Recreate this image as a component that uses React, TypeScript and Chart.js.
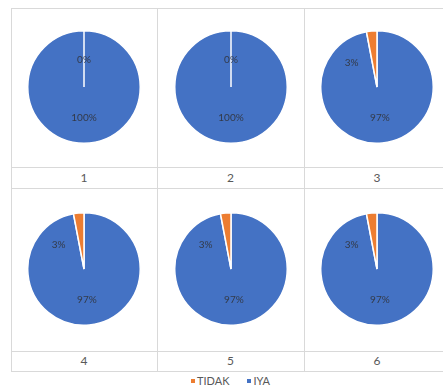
import React, { useEffect, useRef } from "react";
import { Chart, registerables } from "chart.js";

Chart.register(...registerables);

const categories = ["1", "2", "3", "4", "5", "6"];
const seriesNames = ["TIDAK", "IYA"];
const tidakValues = [0, 0, 3, 3, 3, 3];
const iyaValues = [100, 100, 97, 97, 97, 97];
const seriesColors = ["#ED7D31", "#4472C4"];

const colX = [11, 157, 304, 450];
const rowTop = [8, 188];
const pieH = [159, 163];
const labelH = [21, 20];
const gridColor = "#D9D9D9";
const FONT = "Lato, 'Open Sans', sans-serif";

const labelPlugin = {
  id: "pctLabels",
  afterDatasetsDraw(chart: any) {
    const ctx = chart.ctx;
    const meta = chart.getDatasetMeta(0);
    const data = chart.data.datasets[0].data as number[];
    const total = data.reduce((a, b) => a + b, 0);
    ctx.save();
    ctx.font = "10px " + FONT;
    ctx.fillStyle = "#333a48";
    ctx.textAlign = "center";
    ctx.textBaseline = "middle";
    meta.data.forEach((arc: any, i: number) => {
      const p = arc.getProps(["x", "y", "startAngle", "endAngle", "outerRadius"], true);
      const frac = data[i] / total;
      let mid = (p.startAngle + p.endAngle) / 2;
      let dist = p.outerRadius * 0.55;
      if (frac > 0 && frac < 0.1) {
        mid -= 0.72;
        dist = p.outerRadius * 0.62;
      } else if (frac === 0) {
        dist = p.outerRadius * 0.48;
      }
      const tx = p.x + Math.cos(mid) * dist;
      const ty = p.y + Math.sin(mid) * dist;
      ctx.fillText(Math.round(frac * 100) + "%", tx, ty);
    });
    ctx.restore();
  },
};

function Pie({ idx }: { idx: number }) {
  const ref = useRef<HTMLCanvasElement | null>(null);
  useEffect(() => {
    if (!ref.current) return;
    // draw order IYA then TIDAK so the small slice ends at 12 o'clock
    const chart = new Chart(ref.current, {
      type: "pie",
      data: {
        labels: [seriesNames[1], seriesNames[0]],
        datasets: [
          {
            data: [iyaValues[idx], tidakValues[idx]],
            backgroundColor: [seriesColors[1], seriesColors[0]],
            borderColor: "#ffffff",
            borderWidth: 1.5,
          },
        ],
      },
      options: {
        responsive: false,
        animation: false,
        events: [],
        layout: { padding: 0 },
        plugins: { legend: { display: false }, tooltip: { enabled: false } },
      },
      plugins: [labelPlugin],
    });
    return () => chart.destroy();
  }, [idx]);
  return <canvas ref={ref} width={114} height={114} style={{ display: "block" }} />;
}

export default function App() {
  const size = 114;
  const cells: any[] = [];
  categories.forEach((cat, i) => {
    const r = Math.floor(i / 3);
    const c = i % 3;
    const cx = (colX[c] + colX[c + 1]) / 2;
    const cy = rowTop[r] + pieH[r] / 2 - 1;
    cells.push(
      <div key={"p" + i} style={{ position: "absolute", left: cx - size / 2, top: cy - size / 2, width: size, height: size }}>
        <Pie idx={i} />
      </div>
    );
    cells.push(
      <div
        key={"l" + i}
        style={{
          position: "absolute",
          left: colX[c],
          top: rowTop[r] + pieH[r],
          width: colX[c + 1] - colX[c],
          height: labelH[r],
          lineHeight: labelH[r] + "px",
          textAlign: "center",
          fontSize: 12,
          color: "#595959",
          fontFamily: FONT,
        }}
      >
        {cat}
      </div>
    );
  });
  const hLines: number[] = [];
  rowTop.forEach((t, r) => {
    hLines.push(t, t + pieH[r], t + pieH[r] + labelH[r]);
  });
  return (
    <div style={{ position: "absolute", left: 0, top: 0, width: 443, height: 389, background: "#fff", overflow: "hidden" }}>
      {hLines.map((y, k) => (
        <div key={"h" + k} style={{ position: "absolute", left: colX[0], top: y, width: 443 - colX[0], height: 1, background: gridColor }} />
      ))}
      {colX.map((x, k) => (
        <div key={"v" + k} style={{ position: "absolute", left: x, top: rowTop[0], width: 1, height: hLines[hLines.length - 1] - rowTop[0], background: gridColor }} />
      ))}
      {cells}
      <div
        style={{
          position: "absolute",
          left: colX[0],
          width: colX[3] - colX[0],
          top: 372,
          height: 17,
          display: "flex",
          justifyContent: "center",
          alignItems: "center",
          gap: 18,
          fontFamily: FONT,
          fontSize: 11,
          color: "#595959",
        }}
      >
        {seriesNames.map((n, k) => (
          <span key={n} style={{ display: "flex", alignItems: "center" }}>
            <span style={{ display: "inline-block", width: 4, height: 4, background: seriesColors[k], marginRight: 2 }} />
            {n}
          </span>
        ))}
      </div>
    </div>
  );
}
